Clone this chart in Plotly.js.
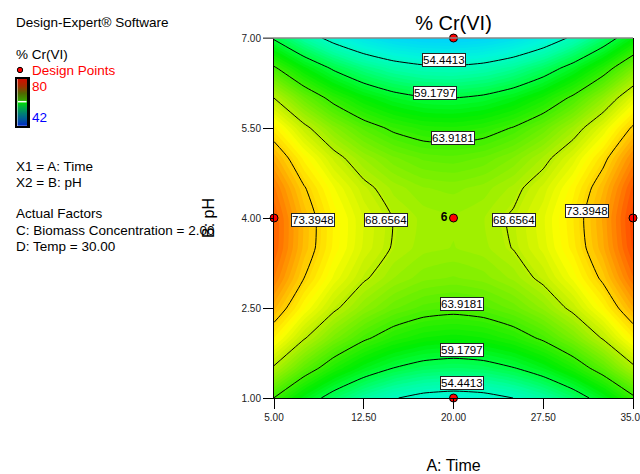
<!DOCTYPE html>
<html>
<head>
<meta charset="utf-8">
<script src="https://cdn.plot.ly/plotly-3.0.1.min.js"></script>
<style>html,body{margin:0;padding:0;background:#fff;}#chart{width:640px;height:474px;}</style>
</head>
<body>
<div id="chart"></div>
<script>
// ---- data ----
const timeGrid = [5, 7.5, 10, 12.5, 15, 17.5, 20, 22.5, 25, 27.5, 30, 32.5, 35];   // A: Time
const phGrid   = [1, 1.5, 2, 2.5, 3, 3.5, 4, 4.5, 5, 5.5, 6, 6.5, 7];              // B: pH
// % Cr(VI) estimated along each pH row (one value per time value)
const crAtPh10 = [63.88, 60.69, 58.09, 56.05, 54.59, 53.69, 53.38, 53.63, 54.45, 55.85, 57.82, 60.36, 63.48];
const crAtPh15 = [68.38, 65.22, 62.62, 60.61, 59.16, 58.28, 57.98, 58.25, 59.09, 60.51, 62.50, 65.06, 68.19];
const crAtPh20 = [71.99, 68.84, 66.27, 64.27, 62.84, 61.98, 61.69, 61.98, 62.84, 64.27, 66.28, 68.85, 72.00];
const crAtPh25 = [74.70, 71.57, 69.02, 67.03, 65.62, 64.78, 64.51, 64.82, 65.69, 67.14, 69.17, 71.76, 74.93];
const crAtPh30 = [76.52, 73.41, 70.87, 68.90, 67.51, 66.69, 66.44, 66.76, 67.65, 69.12, 71.16, 73.77, 76.95];
const crAtPh35 = [77.44, 74.35, 71.83, 69.88, 68.50, 67.70, 67.47, 67.81, 68.72, 70.20, 72.26, 74.89, 78.09];
const crAtPh40 = [77.48, 74.40, 71.89, 69.96, 68.60, 67.82, 67.60, 67.96, 68.89, 70.39, 72.46, 75.11, 78.33];
const crAtPh45 = [76.61, 73.55, 71.07, 69.15, 67.81, 67.04, 66.84, 67.22, 68.16, 69.68, 71.77, 74.43, 77.67];
const crAtPh50 = [74.85, 71.81, 69.34, 67.44, 66.12, 65.37, 65.19, 65.58, 66.54, 68.08, 70.19, 72.87, 76.12];
const crAtPh55 = [72.20, 69.18, 66.72, 64.84, 63.54, 62.80, 62.64, 63.05, 64.03, 65.58, 67.71, 70.41, 73.68];
const crAtPh60 = [68.65, 65.65, 63.21, 61.35, 60.06, 59.34, 59.19, 59.62, 60.62, 62.19, 64.33, 67.05, 70.34];
const crAtPh65 = [64.21, 61.22, 58.80, 56.96, 55.69, 54.99, 54.86, 55.30, 56.32, 57.91, 60.07, 62.80, 66.10];
const crAtPh70 = [58.88, 55.90, 53.50, 51.68, 50.42, 49.74, 49.63, 50.09, 51.12, 52.73, 54.90, 57.65, 60.98];
const contourLevels = [54.4413, 59.1797, 63.9181, 68.6564, 73.3948];
const designTime = [20, 20, 5, 35, 20];
const designPh   = [7, 1, 4, 4, 4];
const designLabel = ['', '', '', '', '6'];
const xTickVals = [5, 12.5, 20, 27.5, 35];
const xTickText = ['5.00', '12.50', '20.00', '27.50', '35.00'];
const yTickVals = [1, 2.5, 4, 5.5, 7];
const yTickText = ['1.00', '2.50', '4.00', '5.50', '7.00'];
const scaleMin = 42, scaleMax = 80;
const legendLevels = [42, 47, 52, 57, 61, 66, 71, 76, 80];

// ---- layout helpers (placement only) ----
const zGrid = [crAtPh10, crAtPh15, crAtPh20, crAtPh25, crAtPh30, crAtPh35, crAtPh40,
               crAtPh45, crAtPh50, crAtPh55, crAtPh60, crAtPh65, crAtPh70];
const W = 640, H = 474, mL = 0, mR = 7, mT = 38, mB = 76;
const PW = W - mL - mR, PH = H - mT - mB;
const px = v => (v - mL) / PW;
const py = v => (H - mB - v) / PH;
const FONT = 'Liberation Sans, Arial, sans-serif';

const mainScale = [
  [0, '#0000ff'], [0.1, '#0080ff'], [0.2, '#00d0ff'], [0.3, '#00f8d8'], [0.37, '#00ffa0'],
  [0.447, '#00ff40'], [0.51, '#00ee00'], [0.58, '#40f000'], [0.645, '#80f000'], [0.71, '#c0f000'],
  [0.776, '#ffff00'], [0.84, '#ffc800'], [0.895, '#ff8c00'], [0.947, '#ff5000'], [1, '#ff1000']
];
const legendScale = [
  [0, '#0022cc'], [0.2, '#006a8a'], [0.4, '#00b040'], [0.5, '#00d800'], [0.56, '#3a9a00'],
  [0.7, '#506800'], [0.85, '#a03000'], [1, '#d01000']
];

const traces = [
  {
    type: 'contour', x: timeGrid, y: phGrid, z: zGrid,
    zauto: false, zmin: scaleMin, zmax: scaleMax, colorscale: mainScale, showscale: false,
    autocontour: false, contours: {coloring: 'fill', start: scaleMin, end: scaleMax, size: 0.5, showlines: false},
    line: {width: 0, smoothing: 0.5}, hoverinfo: 'skip'
  },
  {
    type: 'contour', x: timeGrid, y: phGrid, z: zGrid, showscale: false,
    autocontour: false,
    contours: {coloring: 'none', start: contourLevels[0], end: contourLevels[contourLevels.length - 1] + 0.001,
               size: contourLevels[1] - contourLevels[0], showlabels: false},
    line: {color: '#000', width: 1, smoothing: 0.5}, hoverinfo: 'skip'
  },
  {
    type: 'scatter', mode: 'markers+text', x: designTime, y: designPh, text: designLabel,
    texttemplate: '<b>%{text}</b>', textposition: 'middle left',
    textfont: {family: FONT, size: 12, color: '#000'},
    marker: {size: 8, color: '#ff0000', line: {color: '#000', width: 1}},
    cliponaxis: false, showlegend: false, hoverinfo: 'skip'
  },
  {
    type: 'heatmap', xaxis: 'x2', yaxis: 'y2', x: [0, 1], y: legendLevels,
    z: legendLevels.map(v => [v, v]), zsmooth: 'best',
    zmin: scaleMin, zmax: scaleMax, colorscale: legendScale, showscale: false, hoverinfo: 'skip'
  }
];

const labelSpots = [
  [19.2, 6.63], [18.45, 6.09], [19.93, 5.33], [8.28, 3.97], [14.36, 3.97],
  [25.06, 3.97], [31.13, 4.12], [20.68, 2.56], [20.68, 1.8], [20.68, 1.245]
];
const labelLevelIndex = [0, 1, 2, 4, 3, 3, 4, 2, 1, 0];
const annotations = labelSpots.map((p, i) => ({
  xref: 'x', yref: 'y', x: p[0], y: p[1], showarrow: false,
  text: contourLevels[labelLevelIndex[i]].toFixed(4),
  font: {family: FONT, size: 11.5, color: '#000'},
  bgcolor: '#fff', bordercolor: '#222', borderwidth: 1, borderpad: 0
}));

const sideText = [
  ['Design-Expert® Software', 15, 22.3, '#000'],
  ['% Cr(VI)', 15, 54.3, '#000'],
  ['Design Points', 31, 70, '#ff0000'],
  ['80', 31, 86.7, '#ff0000'],
  ['42', 31, 117.7, '#0000ff'],
  ['X1 = A: Time', 15, 166.7, '#000'],
  ['X2 = B: pH', 15, 182.7, '#000'],
  ['Actual Factors', 15, 213.3, '#000'],
  ['C: Biomass Concentration = 2.00', 15, 230, '#000'],
  ['D: Temp = 30.00', 15, 246.7, '#000']
];
sideText.forEach(t => annotations.push({
  xref: 'paper', yref: 'paper', x: px(t[1]), y: py(t[2]), xanchor: 'left', yanchor: 'middle',
  showarrow: false, text: t[0], borderpad: 0, font: {family: FONT, size: 13.5, color: t[3]}
}));

const shapes = [
  {type: 'line', xref: 'paper', yref: 'paper', x0: px(263), x1: 1, y0: 1, y1: 1, line: {color: '#888', width: 1.5}},
  {type: 'circle', xref: 'paper', yref: 'paper', x0: px(17.3), x1: px(22.7), y0: py(72.7), y1: py(67.3),
   fillcolor: '#ff0000', line: {color: '#000', width: 1}},
  {type: 'line', xref: 'paper', yref: 'paper', x0: px(18), x1: px(26.5), y0: py(101.7), y1: py(101.7),
   line: {color: '#fff', width: 1.5}}
];

const layout = {
  width: W, height: H, margin: {l: mL, r: mR, t: mT, b: mB, pad: 0},
  paper_bgcolor: '#fff', plot_bgcolor: '#fff', showlegend: false,
  font: {family: FONT, color: '#000'},
  title: {text: '% Cr(VI)', font: {family: FONT, size: 20, color: '#000'},
          xref: 'container', x: 453.5 / W, xanchor: 'center', yref: 'container', y: 1 - 22.5 / H, yanchor: 'middle'},
  xaxis: {
    domain: [px(274), 1], range: [5, 35], tickvals: xTickVals, ticktext: xTickText,
    ticks: 'outside', ticklen: 10, tickcolor: '#000', showline: true, linecolor: '#000', linewidth: 1,
    showgrid: false, zeroline: false, tickfont: {family: FONT, size: 10, color: '#222'},
    ticklabeloverflow: 'allow',
    title: {text: 'A: Time', font: {family: FONT, size: 16, color: '#000'}, standoff: 38}, automargin: false
  },
  yaxis: {
    range: [1, 7], tickvals: yTickVals, ticktext: yTickText,
    ticks: 'outside', ticklen: 10, tickcolor: '#000', showline: true, mirror: true, linecolor: '#000', linewidth: 1,
    showgrid: false, zeroline: false, tickfont: {family: FONT, size: 10, color: '#222'},
    title: {text: 'B: pH', font: {family: FONT, size: 16, color: '#000'}, standoff: 22}, automargin: false
  },
  xaxis2: {domain: [px(17.3), px(27.3)], anchor: 'y2', range: [0, 1], showticklabels: false, ticks: '',
           showgrid: false, zeroline: false, showline: true, mirror: true, linecolor: '#000', linewidth: 2.5, fixedrange: true},
  yaxis2: {domain: [py(125.7), py(79)], anchor: 'x2', range: [42, 80], showticklabels: false, ticks: '',
           showgrid: false, zeroline: false, showline: true, mirror: true, linecolor: '#000', linewidth: 2.5, fixedrange: true},
  annotations: annotations,
  shapes: shapes
};

Plotly.newPlot('chart', traces, layout, {displayModeBar: false, staticPlot: true});
</script>
</body>
</html>
